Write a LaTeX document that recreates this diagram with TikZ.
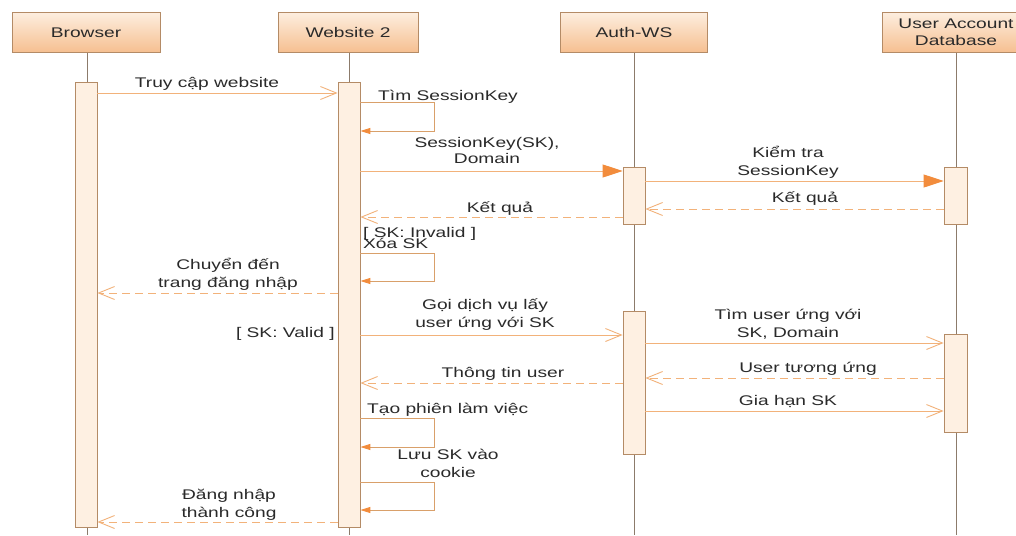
\documentclass[tikz,border=0pt]{standalone}
\usepackage{fontspec}
\setmainfont[FakeStretch=1.37]{Liberation Sans}
\usetikzlibrary{arrows.meta}
\definecolor{lifec}{HTML}{8C7B6B}
\definecolor{arrowc}{HTML}{F2B27A}
\definecolor{headc}{HTML}{F28C3C}
\definecolor{loopc}{HTML}{D9A06A}
\definecolor{barfill}{HTML}{FEF0E2}
\definecolor{barborder}{HTML}{B48B66}
\definecolor{htop}{HTML}{FDEEDF}
\definecolor{hbot}{HTML}{F6BF90}
\definecolor{txt}{HTML}{2A2A2A}
\begin{document}
\begin{tikzpicture}[x=1pt,y=-1pt,
  font=\fontsize{14}{17.5}\selectfont, text=txt,
  head/.style={draw=barborder, line width=0.8pt, top color=htop, bottom color=hbot,
    inner sep=0pt, align=center, minimum height=40pt, anchor=north},
  life/.style={draw=lifec, line width=0.8pt},
  bar/.style={draw=barborder, fill=barfill, line width=0.8pt, inner sep=0pt,
    minimum width=22pt, anchor=north},
  msg/.style={draw=arrowc, line width=0.9pt,
    -{Straight Barb[length=16pt,width=13pt,line width=0.9pt]}},
  ret/.style={msg, dash pattern=on 8pt off 5pt},
  call/.style={draw=arrowc, line width=0.9pt,
    -{Triangle[length=20pt,width=13pt,color=headc,fill=headc]}},
  selfmsg/.style={draw=loopc, line width=0.9pt,
    -{Triangle[length=10pt,width=6pt,color=headc,fill=headc]}},
  lbl/.style={inner sep=0pt, align=center, anchor=base},
  lblw/.style={inner sep=0pt, anchor=base west},
  lble/.style={inner sep=0pt, anchor=base east}]
\clip (0,0) rectangle (1016,535);
\fill[white] (0,0) rectangle (1016,535);

% headers
\node[head, minimum width=148pt] (hB) at (86,12) {Browser};
\node[head, minimum width=140pt] (hW) at (348,12) {Website 2};
\node[head, minimum width=147pt] (hA) at (634,12) {Auth-WS};
\node[head, minimum width=148pt] (hD) at (956,12) {User Account\\[-1pt]Database};

% lifelines
\coordinate (eB) at (87,535);
\coordinate (eW) at (349,535);
\coordinate (eA) at (634,535);
\coordinate (eD) at (956,535);
\draw[life] (hB.south -| eB) -- (eB);
\draw[life] (hW.south -| eW) -- (eW);
\draw[life] (hA.south -| eA) -- (eA);
\draw[life] (hD.south -| eD) -- (eD);

% activation bars
\node[bar, minimum height=445pt] (bB) at (86,82) {};
\node[bar, minimum height=445pt] (bW) at (349,82) {};
\node[bar, minimum height=57pt] (bA1) at (634,167) {};
\node[bar, minimum height=57pt, minimum width=23pt] (bD1) at (955.5,167) {};
\node[bar, minimum height=143pt] (bA2) at (634,311) {};
\node[bar, minimum height=98pt, minimum width=23pt] (bD2) at (955.5,334) {};

% loop corner coordinates
\coordinate (l1a) at (434,102); \coordinate (l1b) at (434,131);
\coordinate (l2a) at (434,253); \coordinate (l2b) at (434,281);
\coordinate (l3a) at (434,418); \coordinate (l3b) at (434,447);
\coordinate (l4a) at (434,482); \coordinate (l4b) at (434,510);

% messages
\draw[msg] (bB.east |- 0,93) -- (bW.west |- 0,93);
\node[lbl] (t1) at (207,87) {Truy cập website};

\draw[selfmsg] (bW.east |- l1a) -- (l1a) -- (l1b) -- (bW.east |- l1b);
\node[lblw] (t2) at (378,100) {Tìm SessionKey};

\draw[call] (bW.east |- 0,171) -- (bA1.west |- 0,171);
\node[lbl] (t3) at (487,163) {SessionKey(SK),\\[-2pt]Domain};

\draw[call] (bA1.east |- 0,181) -- (bD1.west |- 0,181);
\node[lbl] (t4) at (788,175) {Kiểm tra\\SessionKey};

\draw[ret] (bD1.west |- 0,209) -- (bA1.east |- 0,209);
\node[lbl] (t5) at (805,202) {Kết quả};

\draw[ret] (bA1.west |- 0,217) -- (bW.east |- 0,217);
\node[lbl] (t6) at (500,212) {Kết quả};

\node[lblw] (g1) at (363,237) {[ SK: Invalid ]};
\node[lblw] (t7) at (363,248) {Xóa SK};
\draw[selfmsg] (bW.east |- l2a) -- (l2a) -- (l2b) -- (bW.east |- l2b);

\draw[ret] (bW.west |- 0,293) -- (bB.east |- 0,293);
\node[lbl] (t8) at (228,287) {Chuyển đến\\trang đăng nhập};

\node[lble] (g2) at (335,337) {[ SK: Valid ]};
\draw[msg] (bW.east |- 0,335) -- (bA2.west |- 0,335);
\node[lbl] (t9) at (485,327) {Gọi dịch vụ lấy\\user ứng với SK};

\draw[msg] (bA2.east |- 0,343) -- (bD2.west |- 0,343);
\node[lbl] (t10) at (788,337) {Tìm user ứng với\\SK, Domain};

\draw[ret] (bD2.west |- 0,378) -- (bA2.east |- 0,378);
\node[lbl] (t11) at (808,372) {User tương ứng};

\draw[ret] (bA2.west |- 0,383) -- (bW.east |- 0,383);
\node[lbl] (t12) at (503,377) {Thông tin user};

\draw[msg] (bA2.east |- 0,411) -- (bD2.west |- 0,411);
\node[lbl] (t13) at (788,405) {Gia hạn SK};

\node[lblw] (t14) at (367,413) {Tạo phiên làm việc};
\draw[selfmsg] (bW.east |- l3a) -- (l3a) -- (l3b) -- (bW.east |- l3b);

\node[lbl] (t15) at (448,477) {Lưu SK vào\\cookie};
\draw[selfmsg] (bW.east |- l4a) -- (l4a) -- (l4b) -- (bW.east |- l4b);

\draw[ret] (bW.west |- 0,522) -- (bB.east |- 0,522);
\node[lbl] (t16) at (229,517) {Đăng nhập\\thành công};
\end{tikzpicture}
\end{document}
